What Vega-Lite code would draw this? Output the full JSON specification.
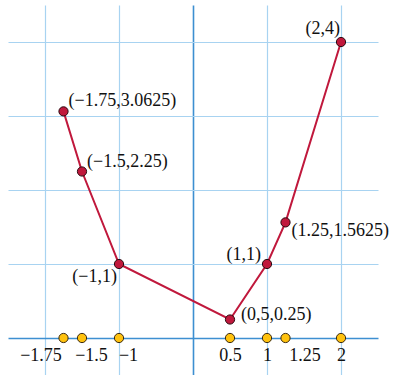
{
  "$schema": "https://vega.github.io/schema/vega-lite/v6.json",
  "autosize": "none",
  "padding": {"left": 8, "top": 5, "right": 16, "bottom": 0},
  "width": 370,
  "height": 370,
  "background": "white",
  "config": {"view": {"stroke": null}, "text": {"font": "Liberation Serif"}},
  "data": {
    "values": [
      {"x": -1.75, "y": 3.0625, "label": "(−1.75,3.0625)"},
      {"x": -1.5, "y": 2.25, "label": "(−1.5,2.25)"},
      {"x": -1, "y": 1, "label": "(−1,1)"},
      {"x": 0.5, "y": 0.25, "label": "(0,5,0.25)"},
      {"x": 1, "y": 1, "label": "(1,1)"},
      {"x": 1.25, "y": 1.5625, "label": "(1.25,1.5625)"},
      {"x": 2, "y": 4, "label": "(2,4)"}
    ]
  },
  "resolve": {"axis": {"x": "independent", "y": "independent"}},
  "layer": [
    {
      "mark": {"type": "line", "color": "#c0183c", "strokeWidth": 2},
      "encoding": {
        "x": {"field": "x", "type": "quantitative", "scale": {"domain": [-2.5, 2.5], "nice": false, "zero": false},
          "axis": {"orient": "top", "values": [-2, -1, 0, 1, 2], "grid": true, "labels": false, "ticks": false, "domain": false, "title": null,
            "gridColor": {"condition": {"test": "datum.value == 0", "value": "#3d8fd1"}, "value": "#a8d3f1"},
            "gridWidth": {"condition": {"test": "datum.value == 0", "value": 1.6}, "value": 1.2},
            "gridOpacity": 1}},
        "y": {"field": "y", "type": "quantitative", "scale": {"domain": [-0.5, 4.5], "nice": false, "zero": false},
          "axis": {"values": [0, 1, 2, 3, 4], "grid": true, "labels": false, "ticks": false, "domain": false, "title": null,
            "gridColor": {"condition": {"test": "datum.value == 0", "value": "#3d8fd1"}, "value": "#a8d3f1"},
            "gridWidth": {"condition": {"test": "datum.value == 0", "value": 1.6}, "value": 1.2},
            "gridOpacity": 1}}
      }
    },
    {
      "mark": {"type": "point", "shape": "circle", "filled": true, "fill": "#ffc20e", "stroke": "#3a2a10", "strokeWidth": 1, "size": 85, "opacity": 1},
      "encoding": {
        "x": {"field": "x", "type": "quantitative",
          "axis": {"orient": "bottom", "values": [-1.75, -1.5, -1, 0.5, 1, 1.25, 2],
            "labelExpr": "replace(format(datum.value, '~g'), '-', '−')",
            "grid": false, "ticks": false, "domain": false, "title": null,
            "offset": -37, "labelPadding": 8, "labelFont": "Liberation Serif", "labelFontSize": 18, "labelColor": "#111",
            "labelOffset": {"expr": "datum.value == -1.75 ? -23 : datum.value == -1.5 ? 9 : datum.value == -1 ? 9 : datum.value == 1.25 ? 19 : 0"},
            "labelOverlap": false, "labelBound": false, "labelFlush": false}},
        "y": {"datum": 0, "type": "quantitative", "axis": null}
      }
    },
    {
      "mark": {"type": "point", "shape": "circle", "filled": true, "fill": "#c0183c", "stroke": "#2a0a10", "strokeWidth": 1, "size": 85, "opacity": 1},
      "encoding": {
        "x": {"field": "x", "type": "quantitative", "axis": null},
        "y": {"field": "y", "type": "quantitative", "axis": null}
      }
    },
    {
      "transform": [{"filter": "datum.x == -1.75 || datum.x == -1.5"}],
      "mark": {"type": "text", "align": "left", "baseline": "middle", "dx": 5, "dy": -10, "fontSize": 18, "color": "#111"},
      "encoding": {
        "x": {"field": "x", "type": "quantitative", "axis": null},
        "y": {"field": "y", "type": "quantitative", "axis": null},
        "text": {"field": "label"}
      }
    },
    {
      "transform": [{"filter": "datum.x == 2"}],
      "mark": {"type": "text", "align": "right", "baseline": "middle", "dx": -1, "dy": -13, "fontSize": 18, "color": "#111"},
      "encoding": {
        "x": {"field": "x", "type": "quantitative", "axis": null},
        "y": {"field": "y", "type": "quantitative", "axis": null},
        "text": {"field": "label"}
      }
    },
    {
      "transform": [{"filter": "datum.x == 1.25"}],
      "mark": {"type": "text", "align": "left", "baseline": "middle", "dx": 6, "dy": 9, "fontSize": 18, "color": "#111"},
      "encoding": {
        "x": {"field": "x", "type": "quantitative", "axis": null},
        "y": {"field": "y", "type": "quantitative", "axis": null},
        "text": {"field": "label"}
      }
    },
    {
      "transform": [{"filter": "datum.x == 1"}],
      "mark": {"type": "text", "align": "right", "baseline": "middle", "dx": -6, "dy": -9, "fontSize": 18, "color": "#111"},
      "encoding": {
        "x": {"field": "x", "type": "quantitative", "axis": null},
        "y": {"field": "y", "type": "quantitative", "axis": null},
        "text": {"field": "label"}
      }
    },
    {
      "transform": [{"filter": "datum.x == 0.5"}],
      "mark": {"type": "text", "align": "left", "baseline": "middle", "dx": 11, "dy": -5, "fontSize": 18, "color": "#111"},
      "encoding": {
        "x": {"field": "x", "type": "quantitative", "axis": null},
        "y": {"field": "y", "type": "quantitative", "axis": null},
        "text": {"field": "label"}
      }
    },
    {
      "transform": [{"filter": "datum.x == -1"}],
      "mark": {"type": "text", "align": "right", "baseline": "middle", "dx": -2, "dy": 13, "fontSize": 18, "color": "#111"},
      "encoding": {
        "x": {"field": "x", "type": "quantitative", "axis": null},
        "y": {"field": "y", "type": "quantitative", "axis": null},
        "text": {"field": "label"}
      }
    }
  ]
}
